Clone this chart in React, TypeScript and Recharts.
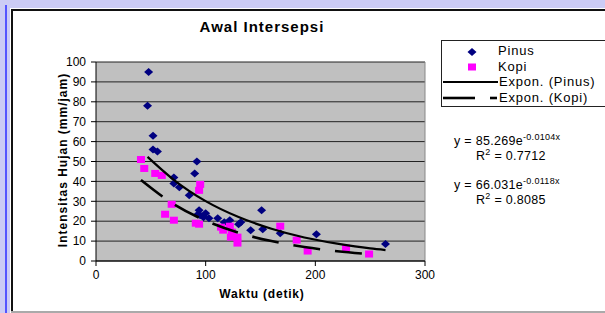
import { ScatterChart, Scatter, XAxis, YAxis, CartesianGrid, ReferenceLine } from 'recharts';

const pinus = [
  [48, 95], [47, 78], [52, 63], [52, 56], [56, 55], [92, 50], [90, 44], [71, 42], [71, 39],
  [76, 37], [85, 33], [94, 25.5], [93, 23.5], [95, 23], [100, 24], [98, 22], [103, 21.5],
  [111, 21.5], [117, 19.5], [122, 20.5], [132, 19.5], [130, 18.5], [141, 15.5], [151, 25.5],
  [152, 16], [168, 14], [201, 13.5], [264, 8.5],
].map(([x, y]) => ({ x, y }));

const kopi = [
  [41, 51], [44, 46.5], [54, 44], [60, 43], [95, 38.5], [94, 35.5], [69, 28.5], [63, 23.5],
  [71, 20.5], [91, 19], [94, 18.5], [114, 17], [116, 15.5], [122, 17.5], [124, 14.5], [123, 12],
  [129, 12], [129, 9], [168, 17.5], [183, 10.5], [193, 5], [228, 6.5], [249, 3.5],
].map(([x, y]) => ({ x, y }));

// trend values
const trendPinus = [
  [47, 52.3], [70, 41.2], [100, 30.1], [130, 22.1], [160, 16.2], [190, 11.8], [220, 8.7], [250, 6.3], [264, 5.5],
].map(([x, y]) => ({ x, y }));

const trendKopi = [
  [41, 40.7], [70, 28.9], [100, 20.3], [130, 14.2], [160, 10.0], [190, 7.0], [220, 4.9], [249, 3.5],
].map(([x, y]) => ({ x, y }));

const xTicks = [0, 100, 200, 300];
const yTicks = [0, 10, 20, 30, 40, 50, 60, 70, 80, 90, 100];

const font = '"Liberation Sans", Arial, sans-serif';

const Diamond = (p: any) => (
  <polygon
    points={`${p.cx},${p.cy - 4} ${p.cx + 4.5},${p.cy} ${p.cx},${p.cy + 4} ${p.cx - 4.5},${p.cy}`}
    fill="#000080"
  />
);

const Square = (p: any) => (
  <rect x={p.cx - 4} y={p.cy - 3.5} width={8} height={7} fill="#ff00ff" />
);

const NoDot = () => null;

const sup = { fontSize: 9, verticalAlign: 5, lineHeight: '9px' };
const eq = { position: 'absolute' as const, fontSize: 12.5, letterSpacing: 0.3, whiteSpace: 'nowrap' as const, lineHeight: '13px' };

export default function App() {
  return (
    <div style={{ position: 'fixed', left: 0, top: 0, width: 605, height: 313, background: '#fff', fontFamily: font, overflow: 'hidden' }}>
      {/* outer frame */}
      <div style={{ position: 'absolute', left: 0, top: 0, width: 605, height: 8, background: '#ccccf5' }} />
      <div style={{ position: 'absolute', left: 0, top: 0, width: 10, height: 313, background: '#ccccf5' }} />
      <div style={{ position: 'absolute', left: 5, top: 5, width: 2, height: 308, background: '#5555ff' }} />
      <div style={{ position: 'absolute', left: 11, top: 9, width: 594, height: 2, background: '#111' }} />
      <div style={{ position: 'absolute', left: 11, top: 9, width: 2, height: 304, background: '#111' }} />
      <div style={{ position: 'absolute', left: 11, top: 311, width: 594, height: 2, background: '#aaa' }} />

      <div style={{ position: 'absolute', left: 0, top: 0 }}>
        <ScatterChart width={605} height={313} margin={{ top: 62, right: 180, bottom: 32, left: 46 }}>
          <CartesianGrid horizontal vertical={false} fill="#c0c0c0" stroke="#222" strokeOpacity={1} />
          <XAxis
            type="number"
            dataKey="x"
            domain={[0, 300]}
            ticks={xTicks}
            interval={0}
            height={20}
            tickSize={5}
            tickMargin={4}
            stroke="#000"
            tick={{ fill: '#000', fontSize: 12, fontFamily: font }}
            allowDataOverflow
          />
          <YAxis
            type="number"
            dataKey="y"
            domain={[0, 100]}
            ticks={yTicks}
            interval={0}
            width={50}
            tickSize={5}
            tickMargin={5}
            stroke="#000"
            tick={{ fill: '#000', fontSize: 12, fontFamily: font }}
            allowDataOverflow
          />
          <ReferenceLine x={300} stroke="#888" />
          <Scatter data={pinus} shape={Diamond} isAnimationActive={false} />
          <Scatter data={kopi} shape={Square} isAnimationActive={false} />
          <Scatter
            data={trendPinus}
            shape={NoDot}
            line={{ stroke: '#000', strokeWidth: 2.2 }}
            lineJointType="monotoneX"
            isAnimationActive={false}
          />
          <Scatter
            data={trendKopi}
            shape={NoDot}
            line={{ stroke: '#000', strokeWidth: 2.6, strokeDasharray: '27 15' }}
            lineJointType="monotoneX"
            isAnimationActive={false}
          />
        </ScatterChart>
      </div>

      {/* title */}
      <div style={{ position: 'absolute', left: 142, width: 240, top: 18, textAlign: 'center', fontSize: 15, fontWeight: 'bold', letterSpacing: 1 }}>
        Awal Intersepsi
      </div>
      {/* axis titles */}
      <div style={{ position: 'absolute', left: 162, width: 200, top: 287, textAlign: 'center', fontSize: 12, fontWeight: 'bold', letterSpacing: 0.8 }}>
        Waktu (detik)
      </div>
      <div
        style={{
          position: 'absolute', left: 63 - 110, top: 160 - 7, width: 220, height: 14, textAlign: 'center',
          fontSize: 12, fontWeight: 'bold', transform: 'rotate(-90deg)', lineHeight: '14px', whiteSpace: 'nowrap',
          letterSpacing: 1,
        }}
      >
        Intensitas Hujan (mm/jam)
      </div>

      {/* legend */}
      <div style={{ position: 'absolute', left: 441, top: 40, width: 170, height: 67, border: '1px solid #222', boxSizing: 'border-box', fontSize: 13, letterSpacing: 0.8 }}>
        <svg width={60} height={66} style={{ position: 'absolute', left: 0, top: 0 }}>
          <polygon points="30,7 34.5,11 30,15 25.5,11" fill="#000080" />
          <rect x={26} y={22.5} width={8} height={7} fill="#ff00ff" />
          <line x1={1} x2={56} y1={41} y2={41} stroke="#000" strokeWidth={2} />
          <line x1={1} x2={33} y1={57} y2={57} stroke="#000" strokeWidth={2.6} />
          <line x1={48} x2={55} y1={57} y2={57} stroke="#000" strokeWidth={2.6} />
        </svg>
        <div style={{ position: 'absolute', left: 56, top: 2 }}>Pinus</div>
        <div style={{ position: 'absolute', left: 56, top: 18 }}>Kopi</div>
        <div style={{ position: 'absolute', left: 57, top: 33 }}>Expon. (Pinus)</div>
        <div style={{ position: 'absolute', left: 57, top: 49 }}>Expon. (Kopi)</div>
      </div>

      {/* trend equations */}
      <div style={{ ...eq, left: 454, top: 133 }}>
        y = 85.269e<sup style={sup}>-0.0104x</sup>
      </div>
      <div style={{ ...eq, left: 476, top: 148 }}>
        R<sup style={sup}>2</sup> = 0.7712
      </div>
      <div style={{ ...eq, left: 454, top: 177 }}>
        y = 66.031e<sup style={sup}>-0.0118x</sup>
      </div>
      <div style={{ ...eq, left: 476, top: 192 }}>
        R<sup style={sup}>2</sup> = 0.8085
      </div>
    </div>
  );
}
